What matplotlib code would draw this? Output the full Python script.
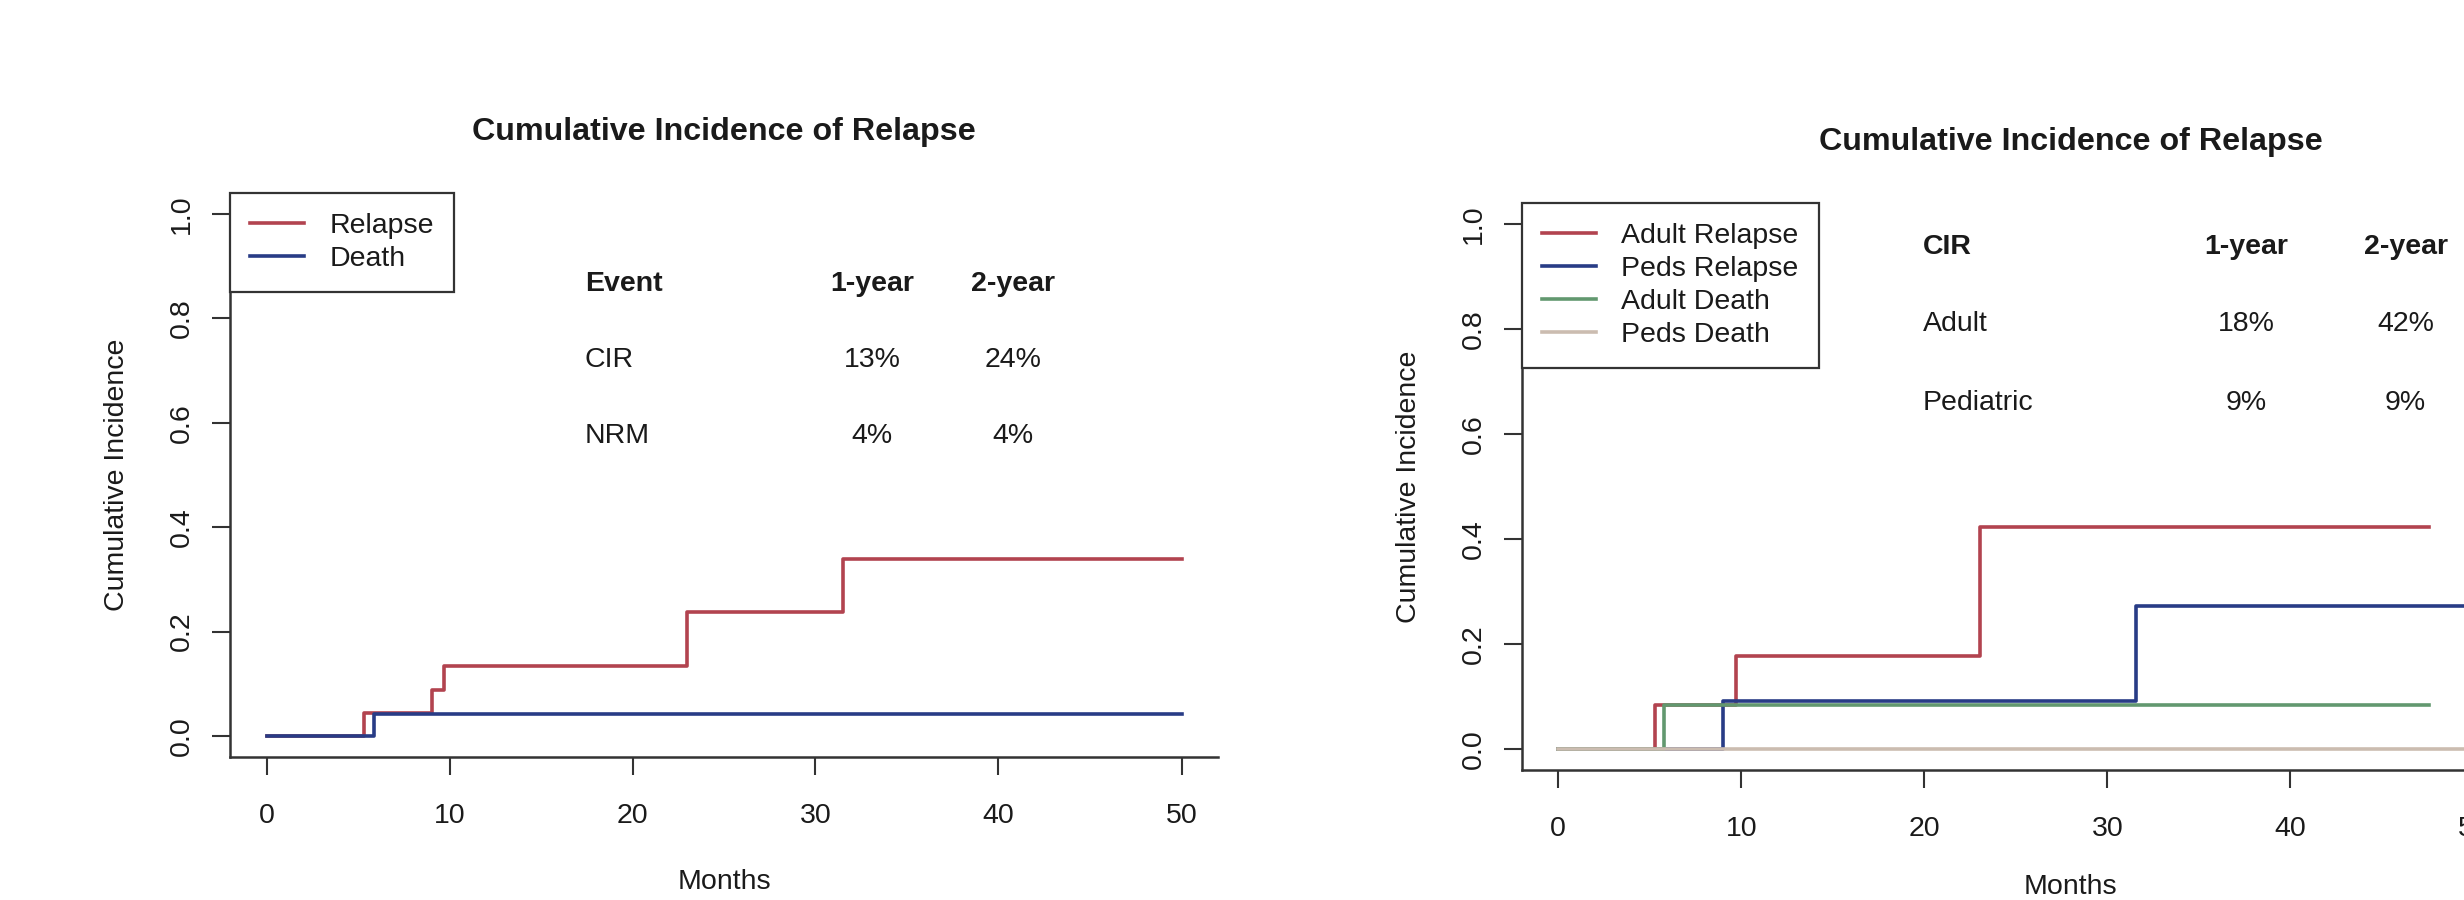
import matplotlib
matplotlib.use("Agg")
import matplotlib.pyplot as plt

plt.rcParams['font.family'] = ['Liberation Sans', 'DejaVu Sans']

# left panel: all patients
relapse_t = [0, 5.35, 9.05, 9.7, 23.0, 31.5, 50]
relapse_y = [0, 0.045, 0.089, 0.135, 0.237, 0.340, 0.340]
death_t = [0, 5.9, 50]
death_y = [0, 0.043, 0.043]

left_cols = ["Event", "1-year", "2-year"]
left_rows = ["CIR", "NRM"]
left_vals = [["13%", "24%"], ["4%", "4%"]]

# right panel: adult vs peds
adult_rel_t = [0, 5.3, 9.7, 23.05, 47.6]
adult_rel_y = [0, 0.084, 0.178, 0.423, 0.423]
peds_rel_t = [0, 9.0, 31.55, 55]
peds_rel_y = [0, 0.091, 0.273, 0.273]
adult_death_t = [0, 5.8, 47.6]
adult_death_y = [0, 0.083, 0.083]
peds_death_t = [0, 55]
peds_death_y = [0, 0]

right_cols = ["CIR", "1-year", "2-year"]
right_rows = ["Adult", "Pediatric"]
right_vals = [["18%", "42%"], ["9%", "9%"]]

RED = "#b2434f"
BLUE = "#283c86"
GREEN = "#62986f"
TAN = "#cbbcb0"
INK = "#1a1a1a"
FS = 20.5
LW = 2.6

fig = plt.figure(figsize=(24.64, 9), dpi=100)


def style_axes(ax, xlim, xpad):
    ax.set_xlim(*xlim)
    ax.set_ylim(-0.04, 1.04)
    for s in ["top", "right"]:
        ax.spines[s].set_visible(False)
    for s in ["left", "bottom"]:
        ax.spines[s].set_linewidth(1.8)
        ax.spines[s].set_color("#333333")
    ax.set_xticks([0, 10, 20, 30, 40, 50])
    ax.set_yticks([0, 0.2, 0.4, 0.6, 0.8, 1.0])
    ax.set_yticklabels(["0.0", "0.2", "0.4", "0.6", "0.8", "1.0"], rotation=90, va="center")
    ax.tick_params(axis="both", length=13, width=1.5, color="#333333", labelsize=FS, labelcolor=INK)
    ax.tick_params(axis="x", pad=20)
    ax.tick_params(axis="y", pad=12)
    ax.set_title("Cumulative Incidence of Relapse", fontsize=23.2, fontweight="bold", color=INK, pad=38)
    ax.set_xlabel("Months", fontsize=FS, color=INK, labelpad=xpad)
    ax.set_ylabel("Cumulative Incidence", fontsize=FS, color=INK, labelpad=28)


def add_legend(ax):
    leg = ax.legend(loc="upper left", bbox_to_anchor=(0, 1), borderaxespad=0, fancybox=False,
                    edgecolor="#333333", framealpha=1, handlelength=1.9, handletextpad=0.9,
                    borderpad=0.7, labelspacing=0.25, fontsize=FS)
    leg.get_frame().set_linewidth(1.6)
    for t in leg.get_texts():
        t.set_color(INK)


def add_table(ax, cols, rows, vals, xs, ys):
    ax.text(xs[0], ys[0], cols[0], ha="left", va="center", fontsize=FS, fontweight="bold", color=INK)
    for j in range(1, 3):
        ax.text(xs[j], ys[0], cols[j], ha="center", va="center", fontsize=FS, fontweight="bold", color=INK)
    for i, r in enumerate(rows):
        ax.text(xs[0], ys[i + 1], r, ha="left", va="center", fontsize=FS, color=INK)
        for j in range(2):
            ax.text(xs[j + 1], ys[i + 1], vals[i][j], ha="center", va="center", fontsize=FS, color=INK)


# left chart
ax1 = fig.add_axes([229.9 / 2464, (900 - 757) / 900, 988.2 / 2464, 564 / 900])
ax1.step(relapse_t, relapse_y, where="post", color=RED, lw=LW, label="Relapse")
ax1.step(death_t, death_y, where="post", color=BLUE, lw=LW, label="Death")
style_axes(ax1, (-2, 52), 29)
add_legend(ax1)
add_table(ax1, left_cols, left_rows, left_vals, [17.4, 33.1, 40.8], [0.865, 0.721, 0.574])

# right chart (runs off the right edge of the image)
ax2 = fig.add_axes([1521.7 / 2464, (900 - 770) / 900, 1098 / 2464, 567 / 900])
ax2.step(adult_rel_t, adult_rel_y, where="post", color=RED, lw=LW, label="Adult Relapse")
ax2.step(peds_rel_t, peds_rel_y, where="post", color=BLUE, lw=LW, label="Peds Relapse")
ax2.step(adult_death_t, adult_death_y, where="post", color=GREEN, lw=LW, label="Adult Death")
ax2.step(peds_death_t, peds_death_y, where="post", color=TAN, lw=LW, label="Peds Death")
style_axes(ax2, (-2, 58), 23)
add_legend(ax2)
add_table(ax2, right_cols, right_rows, right_vals, [19.9, 37.6, 46.3], [0.957, 0.81, 0.66])

fig.savefig("out.png", dpi=100)
